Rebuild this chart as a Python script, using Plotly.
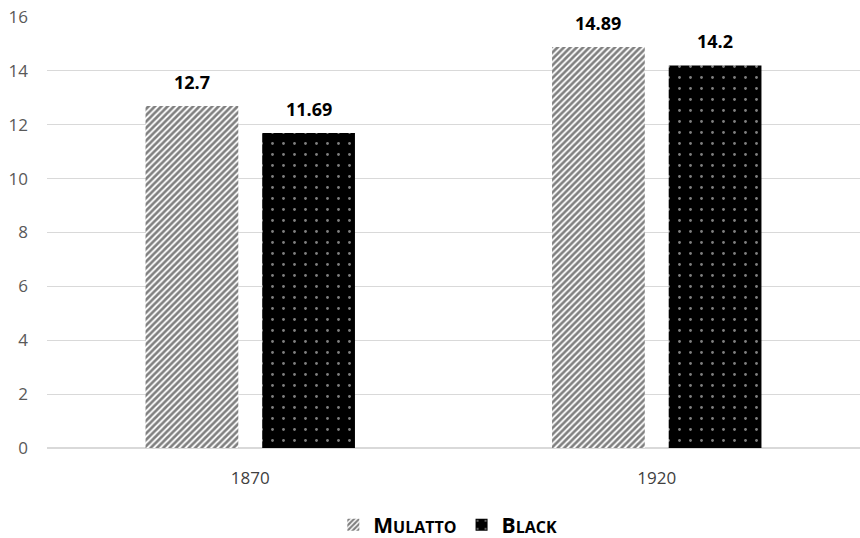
import plotly.graph_objects as go

categories = ["1870", "1920"]
mulatto = [12.7, 14.89]
black = [11.69, 14.2]
mulatto_labels = ["12.7", "14.89"]
black_labels = ["11.69", "14.2"]
y_ticks = [0, 2, 4, 6, 8, 10, 12, 14, 16]

font_family = "Open Sans, Liberation Sans, sans-serif"
W, H = 860, 538
ML, MR, MT, MB = 47, 0, 17, 90
BARGAP, GROUPGAP = 0.426, 0.205

fig = go.Figure()
fig.add_trace(go.Bar(
    x=categories, y=mulatto, name="M<span style='font-size:16px'>ULATTO</span>",
    marker=dict(color="white", line=dict(width=0),
                pattern=dict(shape="/", fgcolor="black", bgcolor="white", size=4.5, solidity=0.6)),
))
fig.add_trace(go.Bar(
    x=categories, y=black, name="B<span style='font-size:16px'>LACK</span>",
    marker=dict(color="black", line=dict(width=0),
                pattern=dict(shape=".", fgcolor="white", bgcolor="black", size=11, solidity=0.05)),
))

# data labels placed above each bar through the axis scales (category index)
plot_w = W - ML - MR
slot_px = plot_w / len(categories) * (1 - BARGAP) / 2
for ti, (vals, labs) in enumerate([(mulatto, mulatto_labels), (black, black_labels)]):
    for ci, (v, lab) in enumerate(zip(vals, labs)):
        fig.add_annotation(x=ci, y=v, xref="x", yref="y", text=lab, showarrow=False,
                           xshift=(ti - 0.5) * slot_px, yanchor="bottom", yshift=10,
                           font=dict(size=18, color="black", family=font_family, weight="bold"))

fig.update_layout(
    width=W, height=H,
    margin=dict(l=ML, r=MR, t=MT, b=MB, autoexpand=False),
    paper_bgcolor="white", plot_bgcolor="white",
    barmode="group", bargap=BARGAP, bargroupgap=GROUPGAP,
    font=dict(family=font_family, color="#595959", size=17),
    showlegend=True,
    legend=dict(orientation="h", x=0.493, xanchor="center", y=-0.179, yanchor="middle",
                font=dict(size=21, color="black", family=font_family, weight="bold"),
                itemwidth=30),
)
fig.update_yaxes(range=[0, 16], tickvals=y_ticks, showgrid=True, gridcolor="#d9d9d9",
                 gridwidth=1, zeroline=True, zerolinecolor="#d9d9d9", showline=False,
                 ticks="", ticklabelstandoff=18, automargin=False,
                 tickfont=dict(size=17, color="#595959"))
fig.update_xaxes(type="category", range=[-0.5, len(categories) - 0.5], showline=True,
                 linecolor="#d9d9d9", ticks="", ticklabelstandoff=15, automargin=False,
                 tickfont=dict(size=17, color="#404040"))

fig.write_html("out.html", config={"displayModeBar": False},
               post_script="document.body.style.margin='0';")
